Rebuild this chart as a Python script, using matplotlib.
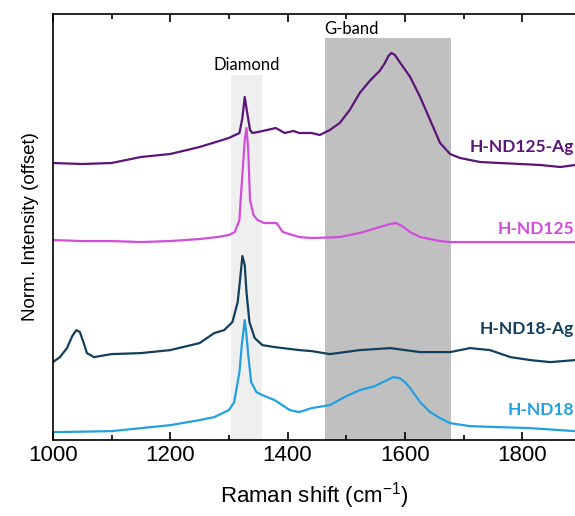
import matplotlib
matplotlib.use("Agg")
import matplotlib.pyplot as plt
from matplotlib.ticker import MultipleLocator

# Raman spectra, normalised and offset
x_nd125ag = [1000, 1050, 1100, 1125, 1150, 1200, 1250, 1300, 1318, 1323, 1327, 1331, 1336, 1340,
             1350, 1380, 1395, 1410, 1420, 1441, 1455, 1472, 1489, 1506, 1523, 1540, 1550, 1557,
             1566, 1572, 1577, 1583, 1591, 1609, 1626, 1643, 1660, 1677, 1694, 1728, 1762, 1797,
             1831, 1865, 1890]
y_nd125ag = [2.77, 2.76, 2.77, 2.80, 2.83, 2.86, 2.93, 3.02, 3.07, 3.22, 3.43, 3.28, 3.10, 3.07,
             3.08, 3.12, 3.07, 3.09, 3.07, 3.07, 3.05, 3.10, 3.17, 3.30, 3.47, 3.59, 3.65, 3.69,
             3.77, 3.84, 3.87, 3.85, 3.78, 3.63, 3.43, 3.20, 2.97, 2.86, 2.82, 2.78, 2.77, 2.76,
             2.75, 2.73, 2.75]

x_nd125 = [1000, 1050, 1100, 1150, 1200, 1250, 1280, 1300, 1310, 1318, 1320, 1323, 1327, 1330,
           1333, 1336, 1342, 1349, 1360, 1381, 1392, 1420, 1441, 1489, 1523, 1557, 1575, 1585,
           1595, 1609, 1626, 1660, 1677, 1710, 1760, 1800, 1850, 1890]
y_nd125 = [2.00, 1.99, 1.99, 1.98, 1.99, 2.01, 2.03, 2.05, 2.08, 2.20, 2.40, 2.65, 3.00, 3.12,
           2.90, 2.40, 2.25, 2.20, 2.17, 2.17, 2.08, 2.03, 2.02, 2.03, 2.07, 2.13, 2.16, 2.17,
           2.14, 2.08, 2.03, 1.99, 1.98, 1.98, 1.98, 1.98, 1.98, 1.98]

x_nd18ag = [1000, 1012, 1024, 1033, 1040, 1046, 1052, 1058, 1070, 1100, 1150, 1200, 1250, 1275,
            1292, 1306, 1315, 1319, 1323, 1327, 1330, 1335, 1344, 1357, 1378, 1420, 1441, 1472,
            1523, 1575, 1626, 1677, 1711, 1745, 1780, 1814, 1848, 1890]
y_nd18ag = [0.78, 0.83, 0.92, 1.04, 1.10, 1.08, 0.98, 0.87, 0.83, 0.86, 0.87, 0.90, 0.97, 1.07,
            1.10, 1.18, 1.38, 1.60, 1.84, 1.75, 1.48, 1.18, 1.02, 0.95, 0.93, 0.90, 0.89, 0.86,
            0.90, 0.92, 0.88, 0.88, 0.92, 0.90, 0.83, 0.80, 0.78, 0.80]

x_nd18 = [1000, 1100, 1150, 1200, 1250, 1275, 1300, 1309, 1318, 1322, 1327, 1330, 1333, 1338,
          1347, 1357, 1378, 1404, 1420, 1441, 1472, 1497, 1523, 1549, 1566, 1580, 1591, 1600,
          1609, 1626, 1643, 1660, 1677, 1711, 1762, 1814, 1865, 1890]
y_nd18 = [0.08, 0.09, 0.12, 0.15, 0.20, 0.23, 0.30, 0.38, 0.68, 0.95, 1.20, 1.05, 0.85, 0.58,
          0.48, 0.45, 0.40, 0.30, 0.28, 0.32, 0.35, 0.43, 0.50, 0.54, 0.59, 0.63, 0.62, 0.58,
          0.52, 0.38, 0.28, 0.22, 0.17, 0.14, 0.13, 0.12, 0.10, 0.09]

labels = ['H-ND125-Ag', 'H-ND125', 'H-ND18-Ag', 'H-ND18']
colors = ['#5b1577', '#d24ddc', '#133f5e', '#22a0e2']
label_y = [2.93, 2.11, 1.11, 0.30]

diamond_band = (1303, 1356)
g_band = (1463, 1678)
y_top = 4.26

fig = plt.figure(figsize=(5.75, 5.16), dpi=100)
ax = fig.add_axes([0.092, 0.147, 0.908, 0.826])

ax.axvspan(*diamond_band, ymin=0, ymax=3.65 / y_top, color='#efefef', lw=0, zorder=0)
ax.axvspan(*g_band, ymin=0, ymax=4.02 / y_top, color='#c0c0c0', lw=0, zorder=0)

ax.text(sum(diamond_band) / 2, 3.75, 'Diamond', ha='center', va='center', fontsize=12, family='Lato')
ax.text(g_band[0], 4.11, 'G-band', ha='left', va='center', fontsize=12, family='Lato')

for xs, ys, c in zip([x_nd125ag, x_nd125, x_nd18ag, x_nd18],
                     [y_nd125ag, y_nd125, y_nd18ag, y_nd18], colors):
    ax.plot(xs, ys, color=c, lw=1.6)

for lab, c, yl in zip(labels, colors, label_y):
    ax.text(1888, yl, lab, color=c, ha='right', va='center', fontsize=12.5,
            fontweight='bold', family='Lato')

ax.set_xlim(1000, 1890)
ax.set_ylim(0, y_top)
ax.set_yticks([])
ax.xaxis.set_major_locator(MultipleLocator(200))
ax.xaxis.set_minor_locator(MultipleLocator(100))
ax.tick_params(axis='x', which='both', direction='in', top=True, labelsize=16)
ax.tick_params(axis='x', which='major', length=6, width=1.2)
ax.tick_params(axis='x', which='minor', length=3.5, width=1.2)
ax.spines['right'].set_visible(False)
for s in ['left', 'top', 'bottom']:
    ax.spines[s].set_linewidth(1.2)
for t in ax.get_xticklabels():
    t.set_family('Liberation Sans')

ax.set_xlabel('Raman shift (cm$^{\\mathregular{-1}}$)', fontsize=16, family='Liberation Sans', labelpad=10)
ax.set_ylabel('Norm. Intensity (offset)', fontsize=13.5, family='Liberation Sans', labelpad=10)

fig.savefig('out.png', dpi=100)
